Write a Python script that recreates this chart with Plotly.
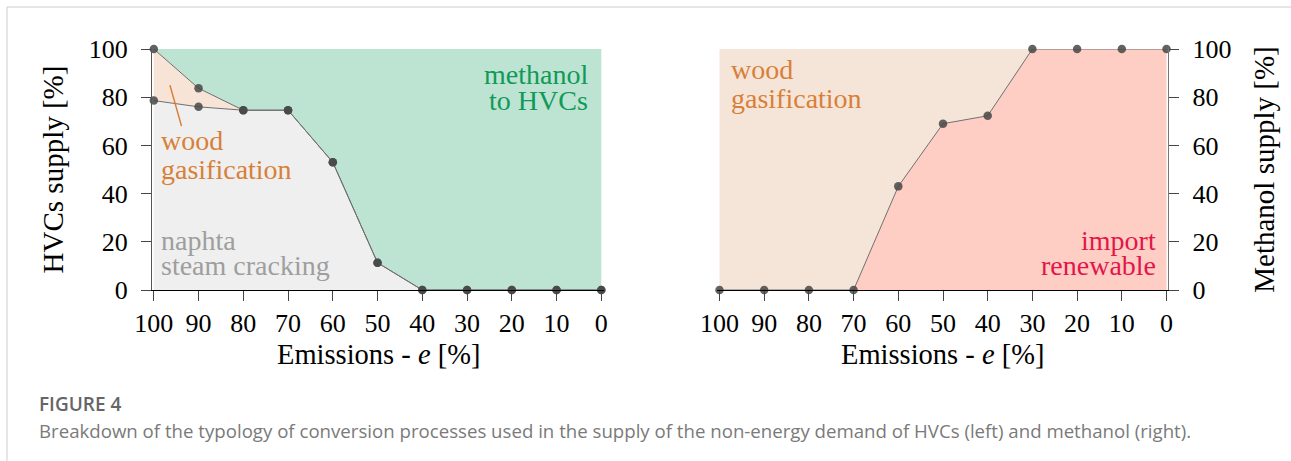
import numpy as np
import plotly.graph_objects as go

# ---------------- data ----------------
emissions = [100, 90, 80, 70, 60, 50, 40, 30, 20, 10, 0]
x_ticks = [100, 90, 80, 70, 60, 50, 40, 30, 20, 10, 0]
y_ticks = [0, 20, 40, 60, 80, 100]

# HVCs supply shares [%]
hvc_naphta = [78.6, 76.0, 74.6, 74.6, 53.0, 11.3, 0, 0, 0, 0, 0]
hvc_wood = [21.4, 7.7, 0, 0, 0, 0, 0, 0, 0, 0, 0]
hvc_methanol = [0, 16.3, 25.4, 25.4, 47.0, 88.7, 100, 100, 100, 100, 100]

# Methanol supply shares [%]
meoh_import = [0, 0, 0, 0, 43.0, 69.0, 72.3, 100, 100, 100, 100]
meoh_wood = [100, 100, 100, 100, 57.0, 31.0, 27.7, 0, 0, 0, 0]

# ---------------- styles ----------------
W, H = 1291, 461
SERIF = "Liberation Serif"
C_GRAY = "#efefef"
C_WOOD = "#f7e4d7"
C_WOOD_R = "#f5e5d8"
C_GREEN = "#bde3d3"
C_PINK = "#fecdc3"
C_LINE = "#6f6f6f"
C_MARK = "rgba(70,70,70,0.85)"
T_WOOD = "#d87f38"
T_GREEN = "#109a58"
T_GRAY = "#9e9e9e"
T_RED = "#e3154a"

l1 = np.array(hvc_naphta)
l2 = l1 + np.array(hvc_wood)
l3 = l2 + np.array(hvc_methanol)
r1 = np.array(meoh_import)
r2 = r1 + np.array(meoh_wood)

fig = go.Figure()

def fill_trace(x, y, color, fill, xa, ya):
    return go.Scatter(x=x, y=y, mode="lines", line=dict(width=0, color=color),
                      fill=fill, fillcolor=color, xaxis=xa, yaxis=ya,
                      hoverinfo="skip", showlegend=False)

# left fills
fig.add_trace(fill_trace(emissions, l1, C_GRAY, "tozeroy", "x", "y"))
fig.add_trace(fill_trace(emissions, l2, C_WOOD, "tonexty", "x", "y"))
fig.add_trace(fill_trace(emissions, l3, C_GREEN, "tonexty", "x", "y"))
# right fills
fig.add_trace(fill_trace(emissions, r1, C_PINK, "tozeroy", "x2", "y2"))
fig.add_trace(fill_trace(emissions, r2, C_WOOD_R, "tonexty", "x2", "y2"))

def line_trace(x, y, xa, ya):
    return go.Scatter(x=x, y=y, mode="lines+markers",
                      line=dict(width=1, color=C_LINE),
                      marker=dict(size=8.5, color=C_MARK),
                      cliponaxis=False, xaxis=xa, yaxis=ya, showlegend=False)

fig.add_trace(line_trace(emissions, l1, "x", "y"))
fig.add_trace(line_trace(emissions, l2, "x", "y"))
fig.add_trace(line_trace(emissions, r1, "x2", "y2"))

# pointer line for "wood gasification" (left)
fig.add_shape(type="line", xref="x", yref="y", x0=96.4, y0=85, x1=93.8, y1=68,
              line=dict(color=T_WOOD, width=1.5))

ydom = [1 - 290 / H, 1 - 49 / H]
axis_common = dict(showgrid=False, zeroline=False, ticks="outside", ticklen=10,
                   tickwidth=1, tickcolor="#444", showline=True, automargin=False,
                   tickfont=dict(family=SERIF, size=26, color="black"))

fig.update_layout(
    width=W, height=H, margin=dict(l=0, r=0, t=0, b=0, autoexpand=False),
    paper_bgcolor="white", plot_bgcolor="white", showlegend=False,
    font=dict(family=SERIF, color="black"),
    xaxis=dict(domain=[152 / W, 604 / W], range=[100.4, -0.6],
               tickvals=x_ticks, ticktext=[str(v) for v in x_ticks],
               linecolor="black", anchor="y", ticklabelstandoff=0,
               **axis_common),
    yaxis=dict(domain=ydom, range=[0, 100], tickvals=y_ticks,
               linecolor="#555", anchor="x", ticklabelstandoff=8,
               title=dict(text="HVCs supply [%]", standoff=16,
                          font=dict(family=SERIF, size=29)),
               **axis_common),
    xaxis2=dict(domain=[716.8 / W, 1168.3 / W], range=[100.6, -0.4],
                tickvals=x_ticks, ticktext=[str(v) for v in x_ticks],
                linecolor="black", anchor="y2", ticklabelstandoff=0,
                **axis_common),
    yaxis2=dict(domain=ydom, range=[0, 100], tickvals=y_ticks, side="right",
                linecolor="#777", anchor="x2", ticklabelstandoff=8,
                title=dict(text="Methanol supply [%]", standoff=23,
                           font=dict(family=SERIF, size=29)),
                **axis_common),
)

# x-axis titles (placed as annotations for exact vertical position)
for xa_dom in ([152 / W, 604 / W], [716.8 / W, 1168.3 / W]):
    fig.add_annotation(text="Emissions - <i>e</i> [%]", x=(xa_dom[0] + xa_dom[1]) / 2,
                       y=1 - 354 / H, xref="paper", yref="paper", showarrow=False,
                       xanchor="center", yanchor="middle",
                       font=dict(family=SERIF, size=28.5, color="black"))

def label(text, x, y, color, xa, ya, xanchor):
    fig.add_annotation(text=text, x=x, y=y, xref=xa, yref=ya, showarrow=False,
                       xanchor=xanchor, yanchor="middle",
                       font=dict(family=SERIF, size=28, color=color))

# left labels
label("methanol", 2.5, 89.5, T_GREEN, "x", "y", "right")
label("to HVCs", 2.5, 78.5, T_GREEN, "x", "y", "right")
label("wood", 98.8, 62, T_WOOD, "x", "y", "left")
label("gasification", 98.8, 50, T_WOOD, "x", "y", "left")
label("naphta", 98.8, 20.5, T_GRAY, "x", "y", "left")
label("steam cracking", 98.8, 10, T_GRAY, "x", "y", "left")
# right labels
label("wood", 97.8, 91.5, T_WOOD, "x2", "y2", "left")
label("gasification", 97.8, 79.5, T_WOOD, "x2", "y2", "left")
label("import", 2.0, 20.5, T_RED, "x2", "y2", "right")
label("renewable", 2.0, 10, T_RED, "x2", "y2", "right")

# caption
fig.add_annotation(text="FIGURE 4", x=37 / W, y=1 - 404 / H, xref="paper", yref="paper",
                   showarrow=False, xanchor="left", yanchor="middle",
                   font=dict(family="Open Sans", size=19, color="#666666", weight=600))
fig.add_annotation(text="Breakdown of the typology of conversion processes used in the supply of the "
                        "non-energy demand of HVCs (left) and methanol (right).",
                   x=37 / W, y=1 - 430 / H, xref="paper", yref="paper",
                   showarrow=False, xanchor="left", yanchor="middle",
                   font=dict(family="Open Sans", size=18.65, color="#7a7a7a"))

# page frame lines
fig.add_shape(type="line", xref="paper", yref="paper", x0=7 / W, x1=1, y0=1 - 7 / H, y1=1 - 7 / H,
              line=dict(color="#cccccc", width=1))
fig.add_shape(type="line", xref="paper", yref="paper", x0=7 / W, x1=7 / W, y0=0, y1=1 - 7 / H,
              line=dict(color="#cccccc", width=1))

fig.write_html("out.html", config={"displayModeBar": False},
               post_script="document.body.style.margin='0';")
